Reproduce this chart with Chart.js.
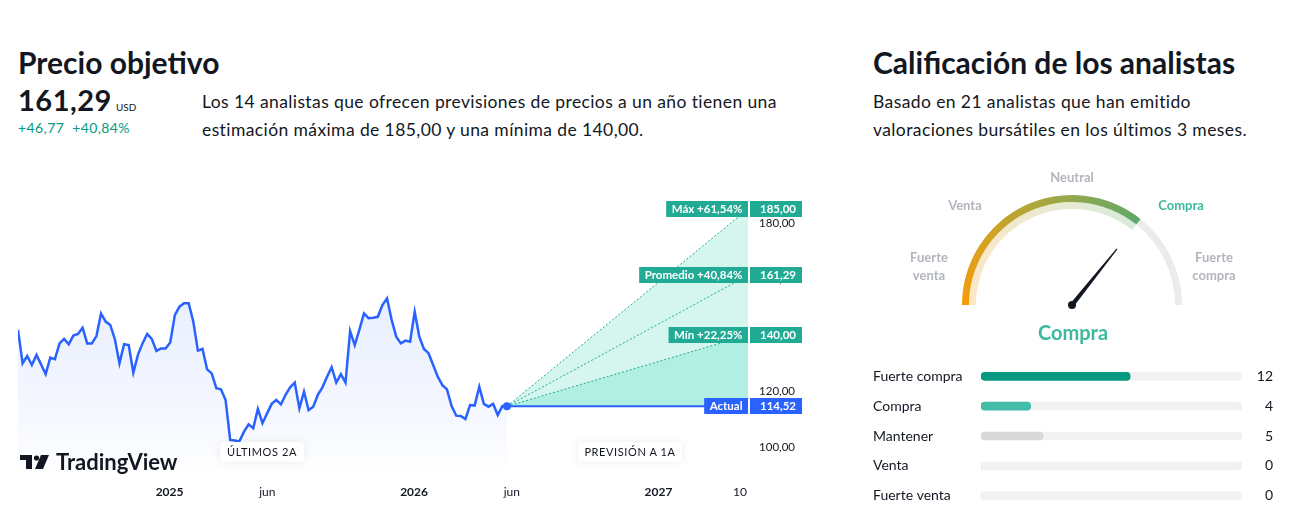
<!DOCTYPE html>
<html lang="es">
<head>
<meta charset="utf-8">
<title>Precio objetivo</title>
<script src="https://cdn.jsdelivr.net/npm/chart.js@4.4.1/dist/chart.umd.min.js"></script>
<style>
  body { margin: 0; background: #fff; font-family: Lato, "Noto Sans", sans-serif; color: #131722; }
  #page { position: relative; width: 1310px; height: 520px; overflow: hidden; }
  .abs { position: absolute; white-space: nowrap; }
  .title { font-size: 30px; font-weight: 700; line-height: 30px; }
  .para { font-size: 17.5px; line-height: 28px; letter-spacing: 0.4px; }
  .big { font-size: 29px; font-weight: 700; letter-spacing: 0.5px; }
  .usd { font-size: 10px; margin-left: 4px; }
  .change { font-size: 14px; color: #089981; letter-spacing: 0.4px; }
  .pill { background: #fff; border-radius: 4px; box-shadow: 0 0 10px rgba(0,0,0,0.08); font-size: 11px;
          letter-spacing: 0.6px; height: 20px; line-height: 20px; text-align: center; transform: translateX(-50%); }
  .glabel { font-size: 13px; font-weight: 700; color: #B2B5BE; text-align: center; line-height: 18px;
            transform: translate(-50%, -50%); }
  canvas { position: absolute; }
</style>
</head>
<body>
<div id="page">
  <div class="abs title" style="left:18px; top:47px;">Precio objetivo</div>
  <div class="abs" style="left:18px; top:82px;"><span class="big" id="avgTarget"></span><span class="usd">USD</span></div>
  <div class="abs change" style="left:18px; top:119px;" id="avgChange"></div>
  <div class="abs para" style="left:202px; top:88px;" id="targetText"></div>

  <canvas id="priceChart" width="810" height="330" style="left:0; top:180px;"></canvas>
  <div class="abs pill" style="left:262px; top:442px; width:84px;">ÚLTIMOS 2A</div>
  <div class="abs pill" style="left:630px; top:442px; width:104px;">PREVISIÓN A 1A</div>
  <div class="abs" style="left:20px; top:448px; display:flex; align-items:center;">
    <svg width="30" height="18" viewBox="0 0 30 18">
      <rect x="0" y="2" width="12" height="5" fill="#131722"/>
      <rect x="6" y="2" width="6" height="14" fill="#131722"/>
      <circle cx="16.5" cy="5" r="2.6" fill="#131722"/>
      <polygon points="21,2 29,2 23,16 15,16" fill="#131722"/>
    </svg>
    <span style="font-size:22px; font-weight:700; margin-left:6px; letter-spacing:0px;">TradingView</span>
  </div>

  <div class="abs title" style="left:873px; top:47px;">Calificación de los analistas</div>
  <div class="abs para" style="left:873px; top:88px;" id="ratingText"></div>

  <canvas id="gaugeChart" width="360" height="180" style="left:892px; top:160px;"></canvas>
  <div class="abs glabel" style="left:1072px; top:177px;">Neutral</div>
  <div class="abs glabel" style="left:965px; top:205px;">Venta</div>
  <div class="abs glabel" style="left:1181px; top:205px; color:#3DBA9D;">Compra</div>
  <div class="abs glabel" style="left:929px; top:266px;">Fuerte<br>venta</div>
  <div class="abs glabel" style="left:1214px; top:266px;">Fuerte<br>compra</div>
  <div class="abs" style="left:1073px; top:332px; transform:translate(-50%,-50%); font-size:20px; font-weight:700; color:#3DBA9D;">Compra</div>

  <canvas id="ratingChart" width="430" height="166" style="left:860px; top:353px;"></canvas>
</div>

<script>
// weekly closes over the last two years
const priceValues = [141.8, 129.9, 132.5, 129.3, 132.9, 129.5, 126, 131.9, 131.4, 137,
  138.6, 136.7, 139.8, 140.4, 142.6, 137, 137, 139.6, 147.7, 144.8,
  143.6, 138.5, 129.9, 136.7, 136.4, 126.5, 132.9, 137, 140.4, 138.6,
  134.3, 135.2, 135.2, 137.3, 147.1, 150.1, 151.3, 151.3, 144.8, 134.4,
  135, 127.7, 126.3, 121, 120.6, 116.8, 102.5, 102.3, 102, 105.5,
  108.1, 106.7, 113.6, 108.5, 112, 115.4, 116.8, 115.2, 118.6, 121.3,
  123, 113.8, 119.8, 113.2, 114.4, 118.6, 121.3, 125.1, 128.5, 123,
  126, 123, 141.4, 136.4, 141.8, 147.7, 146, 146.2, 146.5, 150.7,
  153.1, 145.4, 139.4, 137, 138, 137.6, 148.3, 139.4, 135, 133.5,
  129.3, 125.1, 122.1, 120.6, 114.6, 111.2, 111.1, 110, 115, 114.8,
  121.5, 115.4, 114.4, 115.4, 111.4, 114.6, 114.52];
const histStart = 2024.38;
const histEnd = 2026.38;
const forecastEnd = 2027.366;
const currentPrice = 114.52;
const analystCount = 14;
const targetLabels = ['Máx', 'Promedio', 'Mín'];
const targetValues = [185.00, 161.29, 140.00];
const yTickValues = [100, 120, 140, 160, 180];
const xTickValues = [2025, 2025.4, 2026, 2026.4, 2027, 2027.333];
const xTickLabels = ['2025', 'jun', '2026', 'jun', '2027', '10'];

const ratingLabels = ['Fuerte compra', 'Compra', 'Mantener', 'Venta', 'Fuerte venta'];
const ratingCounts = [12, 4, 5, 0, 0];
const ratingScore = 0.43; // -1 (fuerte venta) .. 1 (fuerte compra)

const BLUE = '#2962FF';
const TEAL = '#22AB94';
const fmt = v => v.toFixed(2).replace('.', ',');

Chart.defaults.font.family = 'Lato, "Noto Sans", sans-serif';
Chart.defaults.color = '#131722';

// header texts
const avgTarget = targetValues[1];
document.getElementById('avgTarget').textContent = fmt(avgTarget);
document.getElementById('avgChange').innerHTML = '+' + fmt(avgTarget - currentPrice) + '&nbsp;&nbsp;+' +
  fmt((avgTarget / currentPrice - 1) * 100) + '%';
document.getElementById('targetText').innerHTML = 'Los ' + analystCount +
  ' analistas que ofrecen previsiones de precios a un año tienen una<br>estimación máxima de ' +
  fmt(targetValues[0]) + ' y una mínima de ' + fmt(targetValues[2]) + '.';
const totalAnalysts = ratingCounts.reduce((a, b) => a + b, 0);
document.getElementById('ratingText').innerHTML = 'Basado en ' + totalAnalysts +
  ' analistas que han emitido<br>valoraciones bursátiles en los últimos 3 meses.';

// price chart
const step = (histEnd - histStart) / (priceValues.length - 1);
const history = priceValues.map((v, i) => ({ x: histStart + i * step, y: v }));
const toTarget = v => [{ x: histEnd, y: currentPrice }, { x: forecastEnd, y: v }];

const targetBoxes = {
  id: 'targetBoxes',
  afterDatasetsDraw(chart) {
    const { ctx, chartArea, scales } = chart;
    const rows = targetValues.map((v, i) => ({
      label: targetLabels[i] + ' +' + fmt((v / currentPrice - 1) * 100) + '%', value: v, color: TEAL
    }));
    rows.push({ label: 'Actual', value: currentPrice, color: BLUE });
    ctx.save();
    ctx.font = 'bold 11.5px Lato, "Noto Sans", sans-serif';
    ctx.textBaseline = 'middle';
    ctx.textAlign = 'right';
    rows.forEach(r => {
      const y = Math.round(scales.y.getPixelForValue(r.value));
      const w = ctx.measureText(r.label).width + 11;
      ctx.fillStyle = r.color;
      ctx.fillRect(chartArea.right - w, y - 8, w, 16);
      ctx.fillRect(chartArea.right + 2, y - 8, 52, 16);
      ctx.fillStyle = '#fff';
      ctx.fillText(r.label, chartArea.right - 5.5, y + 0.5);
      ctx.fillText(fmt(r.value), chartArea.right + 48, y + 0.5);
    });
    ctx.restore();
  }
};

new Chart(document.getElementById('priceChart'), {
  type: 'line',
  data: {
    datasets: [
      {
        data: history,
        borderColor: BLUE,
        borderWidth: 2.5,
        fill: 'start',
        backgroundColor: c => {
          const a = c.chart.chartArea;
          if (!a) return 'rgba(41,98,255,0.08)';
          const g = c.chart.ctx.createLinearGradient(0, a.top + 90, 0, a.bottom);
          g.addColorStop(0, 'rgba(41,98,255,0.11)');
          g.addColorStop(0.75, 'rgba(41,98,255,0.04)');
          g.addColorStop(1, 'rgba(41,98,255,0)');
          return g;
        },
        pointRadius: c => c.dataIndex === priceValues.length - 1 ? 4 : 0,
        pointBackgroundColor: BLUE,
        pointBorderWidth: 0
      },
      { data: toTarget(currentPrice), borderColor: BLUE, borderWidth: 2, pointRadius: 0, fill: false },
      { data: toTarget(targetValues[0]), borderColor: TEAL, borderWidth: 1, borderDash: [2, 2], pointRadius: 0,
        fill: 1, backgroundColor: 'rgba(0,200,160,0.17)' },
      { data: toTarget(targetValues[1]), borderColor: TEAL, borderWidth: 1, borderDash: [2, 2], pointRadius: 0, fill: false },
      { data: toTarget(targetValues[2]), borderColor: TEAL, borderWidth: 1, borderDash: [2, 2], pointRadius: 0,
        fill: 1, backgroundColor: 'rgba(0,200,160,0.17)' }
    ]
  },
  options: {
    responsive: false,
    animation: false,
    events: [],
    layout: { padding: { left: 18, top: 15, right: 15, bottom: 0 } },
    plugins: { legend: { display: false }, tooltip: { enabled: false }, filler: { drawTime: 'beforeDatasetsDraw' } },
    scales: {
      x: {
        type: 'linear',
        min: histStart,
        max: forecastEnd,
        grid: { display: false, drawTicks: false },
        border: { display: false },
        afterBuildTicks: s => { s.ticks = xTickValues.map(v => ({ value: v })); },
        afterFit: s => { s.height = 35; },
        ticks: {
          padding: 10,
          maxRotation: 0,
          autoSkip: false,
          callback: (v, i) => xTickLabels[i],
          font: c => ({ size: 12, weight: Number.isInteger(xTickValues[c.index]) ? 'bold' : 'normal' })
        }
      },
      y: {
        position: 'right',
        min: 90,
        max: 190,
        grid: { display: false, drawTicks: false },
        border: { display: false },
        afterBuildTicks: s => { s.ticks = yTickValues.map(v => ({ value: v })); },
        afterFit: s => { s.width = 47; },
        ticks: { padding: 0, crossAlign: 'far', font: { size: 11.5 }, callback: v => fmt(v) }
      }
    }
  },
  plugins: [targetBoxes]
});

// gauge
const gaugeFrac = (ratingScore + 1) / 2;
const gaugeStops = [[0, '245,155,10'], [0.12, '207,162,38'], [0.25, '147,168,76'], [0.36, '93,168,107'], [1, '93,168,107']];
function arcGradient(chart, alpha) {
  const a = chart.chartArea;
  if (!a) return 'rgba(0,0,0,0)';
  const cx = (a.left + a.right) / 2;
  const cy = (a.top + a.bottom) / 2 + 55;
  const g = chart.ctx.createConicGradient(Math.PI, cx, cy);
  gaugeStops.forEach(s => g.addColorStop(s[0], 'rgba(' + s[1] + ',' + alpha + ')'));
  return g;
}

const needle = {
  id: 'needle',
  afterDatasetsDraw(chart) {
    const arc = chart.getDatasetMeta(0).data[0];
    const cx = arc.x, cy = arc.y;
    const ang = Math.PI + gaugeFrac * Math.PI;
    const tx = cx + Math.cos(ang) * 72, ty = cy + Math.sin(ang) * 72;
    const px = -Math.sin(ang), py = Math.cos(ang);
    const ctx = chart.ctx;
    ctx.save();
    ctx.fillStyle = '#131722';
    ctx.beginPath();
    ctx.moveTo(cx + px * 2.2, cy + py * 2.2);
    ctx.lineTo(tx + px * 0.6, ty + py * 0.6);
    ctx.lineTo(tx - px * 0.6, ty - py * 0.6);
    ctx.lineTo(cx - px * 2.2, cy - py * 2.2);
    ctx.closePath();
    ctx.fill();
    ctx.beginPath();
    ctx.arc(cx, cy, 4, 0, Math.PI * 2);
    ctx.fill();
    ctx.restore();
  }
};

new Chart(document.getElementById('gaugeChart'), {
  type: 'doughnut',
  data: {
    labels: ['score', 'rest'],
    datasets: [
      { data: [gaugeFrac, 1 - gaugeFrac], borderWidth: 0,
        backgroundColor: c => c.dataIndex === 0 ? arcGradient(c.chart, 1) : '#EBEBEB' },
      { data: [gaugeFrac, 1 - gaugeFrac], borderWidth: 0,
        backgroundColor: c => c.dataIndex === 0 ? arcGradient(c.chart, 0.24) : 'rgba(0,0,0,0)' }
    ]
  },
  options: {
    responsive: false,
    animation: false,
    events: [],
    rotation: -90,
    circumference: 180,
    radius: 110,
    cutout: '87.3%',
    plugins: { legend: { display: false }, tooltip: { enabled: false } }
  },
  plugins: [needle]
});

// rating distribution
const countLabels = {
  id: 'countLabels',
  afterDatasetsDraw(chart) {
    const { ctx, chartArea } = chart;
    const meta = chart.getDatasetMeta(0);
    ctx.save();
    ctx.font = '14px Lato, "Noto Sans", sans-serif';
    ctx.fillStyle = '#131722';
    ctx.textAlign = 'right';
    ctx.textBaseline = 'middle';
    meta.data.forEach((bar, i) => ctx.fillText(ratingCounts[i], chartArea.right + 31, bar.y));
    ctx.restore();
  }
};

new Chart(document.getElementById('ratingChart'), {
  type: 'bar',
  data: {
    labels: ratingLabels,
    datasets: [
      { data: ratingCounts, backgroundColor: ['#089981', '#42BDA8', '#D9D9D9', '#D9D9D9', '#D9D9D9'],
        barThickness: 8, borderRadius: 4, borderSkipped: false, grouped: false },
      { data: ratingLabels.map(() => totalAnalysts), backgroundColor: '#F2F2F2',
        barThickness: 8, borderRadius: 4, borderSkipped: false, grouped: false }
    ]
  },
  options: {
    indexAxis: 'y',
    responsive: false,
    animation: false,
    events: [],
    layout: { padding: { left: 13, right: 48, top: 0, bottom: 0 } },
    plugins: { legend: { display: false }, tooltip: { enabled: false } },
    scales: {
      x: { display: false, min: 0, max: totalAnalysts },
      y: {
        grid: { display: false, drawTicks: false },
        border: { display: false },
        afterFit: s => { s.width = 108; },
        ticks: { crossAlign: 'far', padding: 0, font: { size: 14 } }
      }
    }
  },
  plugins: [countLabels]
});
</script>
</body>
</html>
